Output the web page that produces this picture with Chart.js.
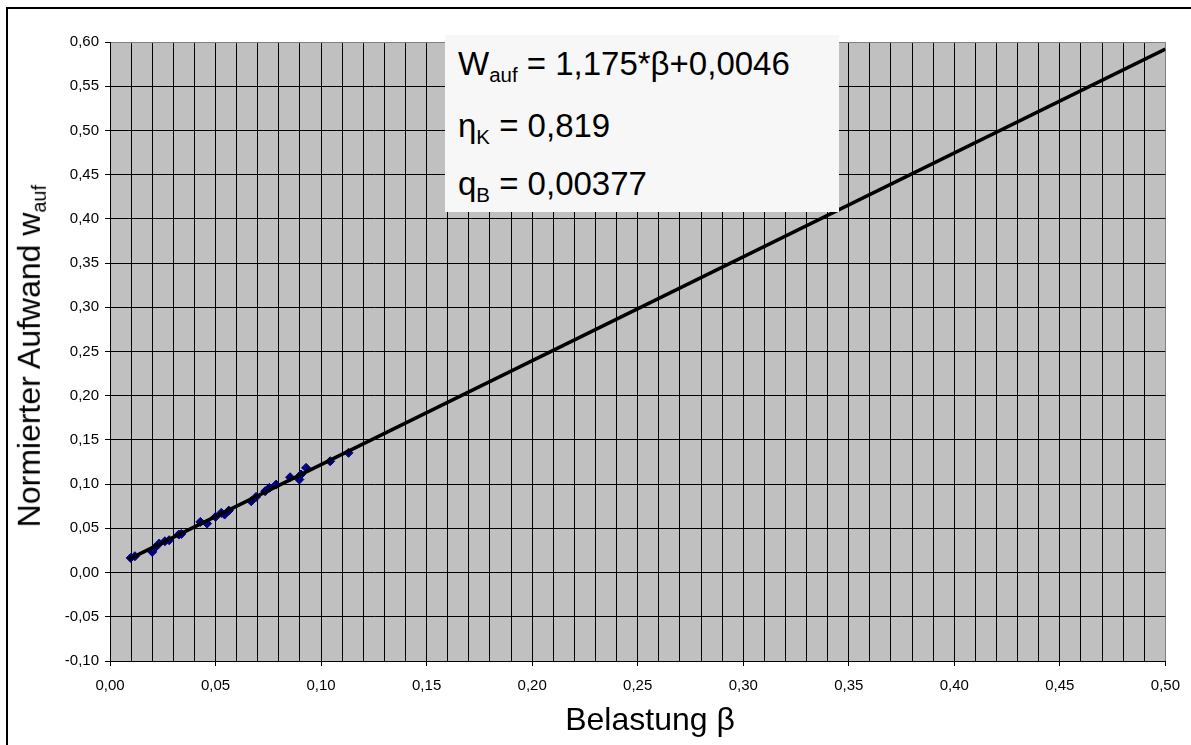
<!DOCTYPE html>
<html>
<head>
<meta charset="utf-8">
<script src="https://cdn.jsdelivr.net/npm/chart.js@4"></script>
<style>
  html, body { margin: 0; padding: 0; background: #fff; overflow: hidden; }
  #wrap { position: relative; width: 1191px; height: 745px; font-family: 'Liberation Sans', Arial, sans-serif; color: #000; }
  #frame { position: absolute; left: 6px; top: 7px; width: 1200px; height: 800px; border: 2px solid #000; box-sizing: border-box; }
  canvas { position: absolute; left: 0; top: 0; }
  .sub { font-size: 62%; vertical-align: -0.32em; }
  #eqbox { position: absolute; left: 445px; top: 35px; width: 394px; height: 177px; background: #f7f7f7; }
  .eq { position: absolute; left: 13px; font-size: 33px; line-height: 33px; white-space: nowrap; }
  #ytitle { position: absolute; left: -166px; top: 335px; width: 400px; text-align: center; font-size: 32px; line-height: 32px; transform: rotate(-90deg); white-space: nowrap; }
  #xtitle { position: absolute; left: 450px; top: 703px; width: 400px; text-align: center; font-size: 32px; line-height: 32px; white-space: nowrap; }
</style>
</head>
<body>
<div id="wrap">
  <div id="frame"></div>
  <canvas id="chart" width="1191" height="745"></canvas>
  <div id="eqbox">
    <div class="eq" style="top:12px">W<span class="sub">auf</span> = 1,175*β+0,0046</div>
    <div class="eq" style="top:74px">η<span class="sub">K</span> = 0,819</div>
    <div class="eq" style="top:132px">q<span class="sub">B</span> = 0,00377</div>
  </div>
  <div id="ytitle">Normierter Aufwand w<span class="sub">auf</span></div>
  <div id="xtitle">Belastung β</div>
</div>

<script>
// measured points (Belastung beta, normierter Aufwand w_auf)
const betaVals = [0.0098, 0.0118, 0.0200, 0.0212, 0.0233, 0.0260, 0.0280, 0.0326, 0.0338, 0.0428, 0.0460, 0.0500, 0.0527,
                  0.0543, 0.0563, 0.0669, 0.0692, 0.0735, 0.0755, 0.0787, 0.0853, 0.0897, 0.0905, 0.0929, 0.1043, 0.1130];
const waufVals = [0.0166, 0.0185, 0.0234, 0.0279, 0.0328, 0.0354, 0.0366, 0.0430, 0.0437, 0.0573, 0.0554, 0.0630, 0.0675,
                  0.0656, 0.0701, 0.0807, 0.0856, 0.0920, 0.0958, 0.0995, 0.1078, 0.1052, 0.1109, 0.1184, 0.1259, 0.1354];

// regression line end points
const trendBeta = [0.009, 0.50];
const trendWauf = [0.0152, 0.592];

const xMin = 0, xMax = 0.50, xStep = 0.01;
const yMin = -0.10, yMax = 0.60, yStep = 0.05;

const fmt = v => (Math.abs(v) < 1e-9 ? 0 : v).toFixed(2).replace('.', ',');
const isMajor = v => Math.round(v * 100) % 5 === 0;

const plotBg = {
  id: 'plotBg',
  beforeDraw(chart) {
    const { ctx, chartArea: a } = chart;
    ctx.save();
    ctx.fillStyle = '#c0c0c0';
    ctx.fillRect(a.left, a.top, a.right - a.left, a.bottom - a.top);
    ctx.restore();
  }
};

new Chart(document.getElementById('chart'), {
  type: 'scatter',
  data: {
    datasets: [
      {
        label: 'Trend',
        data: trendBeta.map((b, i) => ({ x: b, y: trendWauf[i] })),
        showLine: true,
        borderColor: '#000',
        borderWidth: 3.5,
        pointRadius: 0
      },
      {
        label: 'Messwerte',
        data: betaVals.map((b, i) => ({ x: b, y: waufVals[i] })),
        pointStyle: 'rectRot',
        pointRadius: 4.5,
        backgroundColor: '#000080',
        borderColor: '#000080',
        borderWidth: 1
      }
    ]
  },
  options: {
    responsive: false,
    animation: false,
    layout: { padding: { left: 0, top: 42, right: 22, bottom: 0 } },
    plugins: { legend: { display: false }, tooltip: { enabled: false } },
    scales: {
      x: {
        type: 'linear', min: xMin, max: xMax,
        afterFit: s => { s.height = 84; },
        ticks: {
          stepSize: xStep, autoSkip: false, maxRotation: 0, padding: 11,
          color: '#000', font: { family: 'Liberation Sans, Arial', size: 15 },
          callback: v => isMajor(v) ? fmt(v) : ''
        },
        grid: {
          color: c => (c.tick && Math.abs(c.tick.value - xMax) < 1e-9) ? '#808080' : '#000',
          lineWidth: 1,
          tickLength: 5,
          tickColor: c => (c.tick && isMajor(c.tick.value)) ? '#000' : 'rgba(0,0,0,0)'
        },
        border: { display: true, color: '#000', width: 1 }
      },
      y: {
        min: yMin, max: yMax,
        afterFit: s => { s.width = 110; },
        ticks: {
          stepSize: yStep, autoSkip: false, padding: 6,
          color: '#000', font: { family: 'Liberation Sans, Arial', size: 15 },
          callback: v => fmt(v)
        },
        grid: {
          color: c => (c.tick && Math.abs(c.tick.value - yMax) < 1e-9) ? '#808080' : '#000',
          lineWidth: 1,
          tickLength: 5,
          tickColor: '#000'
        },
        border: { display: true, color: '#000', width: 1 }
      }
    }
  },
  plugins: [plotBg]
});
</script>
</body>
</html>
